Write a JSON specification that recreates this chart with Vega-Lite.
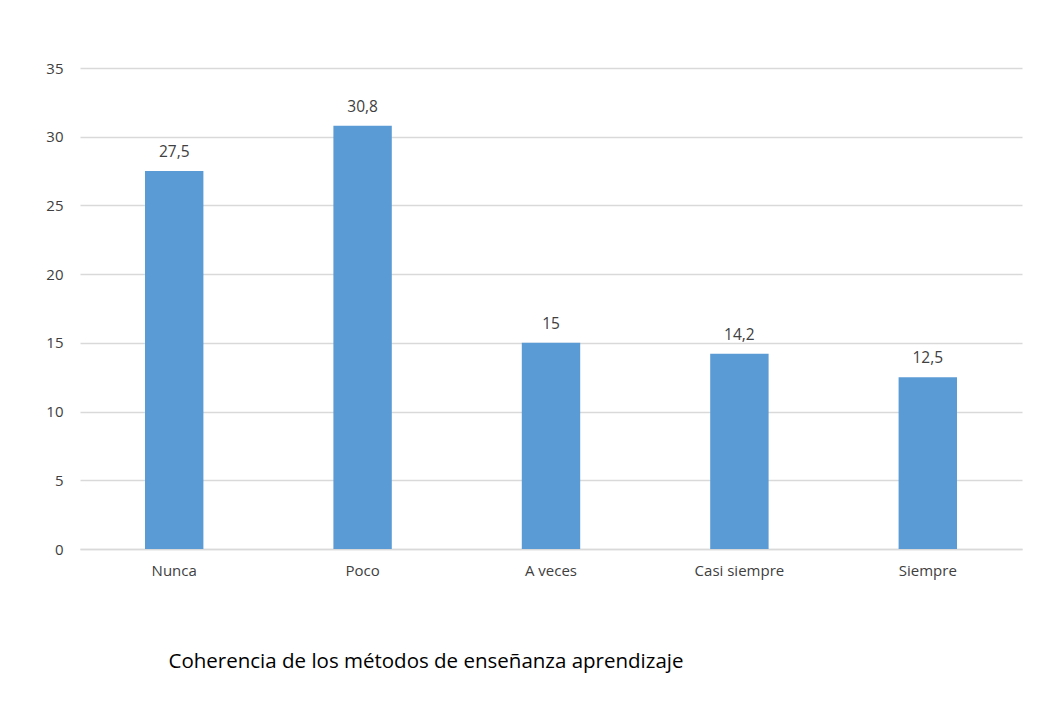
{
  "$schema": "https://vega.github.io/schema/vega-lite/v6.json",
  "autosize": "none",
  "width": 942,
  "height": 481,
  "padding": {"left": 80, "top": 68, "right": 15, "bottom": 164},
  "background": "white",
  "config": {
    "view": {"stroke": null},
    "font": "Open Sans",
    "locale": {"number": {"decimal": ",", "thousands": ".", "grouping": [3], "currency": ["", ""]}}
  },
  "data": {
    "values": [
      {"categoria": "Nunca", "valor": 27.5},
      {"categoria": "Poco", "valor": 30.8},
      {"categoria": "A veces", "valor": 15},
      {"categoria": "Casi siempre", "valor": 14.2},
      {"categoria": "Siempre", "valor": 12.5}
    ]
  },
  "encoding": {
    "x": {
      "field": "categoria",
      "type": "nominal",
      "sort": null,
      "scale": {"paddingInner": 0.69, "paddingOuter": 0.345},
      "axis": {
        "title": "Coherencia de los métodos de enseñanza aprendizaje",
        "titleFont": "Open Sans",
        "titleFontSize": 20.5,
        "titleFontWeight": "normal",
        "titleColor": "#000000",
        "titleAnchor": "start",
        "titleAlign": "left",
        "titleBaseline": "alphabetic",
        "titleX": 88,
        "titleY": 118,
        "labelAngle": 0,
        "labelFontSize": 15,
        "labelColor": "#404040",
        "labelPadding": 14,
        "ticks": false,
        "domainColor": "#d9d9d9",
        "domainWidth": 1.3
      }
    },
    "y": {
      "field": "valor",
      "type": "quantitative",
      "scale": {"domain": [0, 35], "nice": false},
      "axis": {
        "title": null,
        "values": [0, 5, 10, 15, 20, 25, 30, 35],
        "labelFontSize": 15,
        "labelColor": "#404040",
        "labelPadding": 17,
        "ticks": false,
        "domain": false,
        "gridColor": "#d9d9d9",
        "gridWidth": 1.3
      }
    }
  },
  "layer": [
    {"mark": {"type": "bar", "color": "#5b9bd5"}},
    {
      "mark": {"type": "text", "baseline": "alphabetic", "dy": -14, "fontSize": 15.5, "color": "#404040"},
      "encoding": {"text": {"field": "valor", "type": "quantitative", "format": ".1~f"}}
    }
  ]
}
